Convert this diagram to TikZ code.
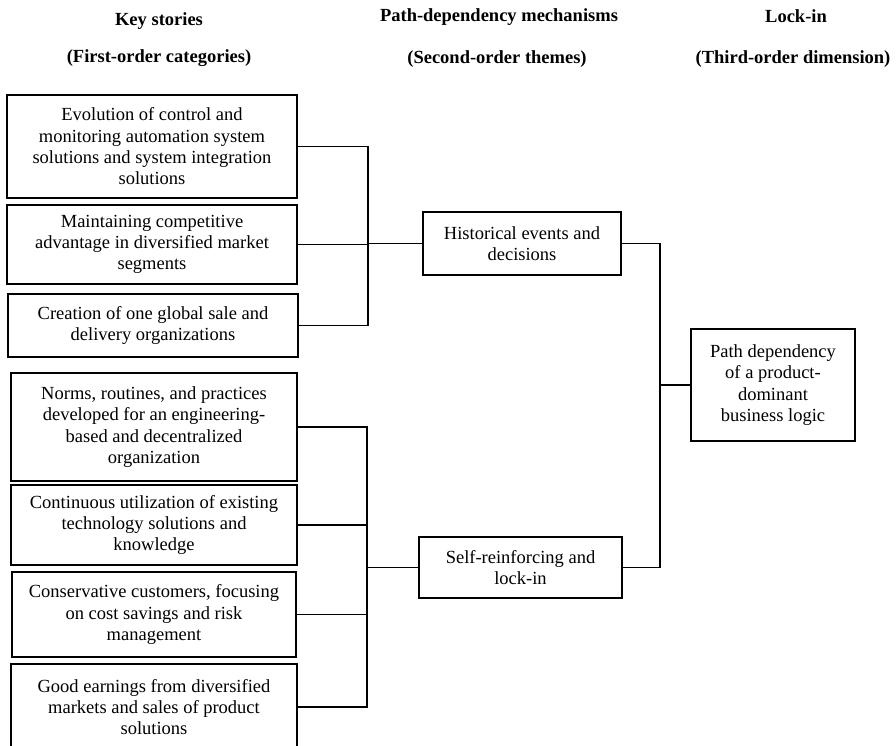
\documentclass[tikz,border=0pt]{standalone}
\usepackage{fontspec}
\setmainfont{Liberation Serif}
\begin{document}
\begin{tikzpicture}[x=1pt,y=-1pt,
  box/.style={draw=black, line width=1.3pt, inner sep=0pt, align=center,
    font=\fontsize{18.5}{21.3}\selectfont},
  head/.style={anchor=base, inner sep=0pt, font=\fontsize{18.5}{21}\selectfont\bfseries},
  conn/.style={draw=black, line width=1.3pt}]
\clip (0,0) rectangle (896,745);
\fill[white] (0,0) rectangle (896,745);

% headers
\node[head] (h1a) at (159,25) {Key stories};
\node[head] (h1b) at (159,62) {(First-order categories)};
\node[head] (h2a) at (499,21) {Path-dependency mechanisms};
\node[head] (h2b) at (497,63) {(Second-order themes)};
\node[head] (h3a) at (796,22) {Lock-in};
\node[head] (h3b) at (793,63) {(Third-order dimension)};

% first-order boxes (upper group)
\node[box, minimum width=290pt, minimum height=103pt] (b1) at (152,146.5)
  {Evolution of control and\\monitoring automation system\\solutions and system integration\\solutions};
\node[box, minimum width=290pt, minimum height=79pt] (b2) at (152,244.5)
  {Maintaining competitive\\advantage in diversified market\\segments};
\node[box, minimum width=290pt, minimum height=63pt] (b3) at (153,325.5)
  {Creation of one global sale and\\delivery organizations};

% first-order boxes (lower group)
\node[box, minimum width=286pt, minimum height=108pt] (b4) at (154,427)
  {Norms, routines, and practices\\developed for an engineering-\\based and decentralized\\organization};
\node[box, minimum width=286pt, minimum height=80pt] (b5) at (154,525)
  {Continuous utilization of existing\\technology solutions and\\knowledge};
\node[box, minimum width=284pt, minimum height=85pt] (b6) at (154,614.5)
  {Conservative customers, focusing\\on cost savings and risk\\management};
\node[box, minimum width=286pt, minimum height=86pt] (b7) at (154,707)
  {Good earnings from diversified\\markets and sales of product\\solutions};

% second-order boxes
\node[box, minimum width=198pt, minimum height=63pt] (hist) at (522,243.5)
  {Historical events and\\decisions};
\node[box, minimum width=203pt, minimum height=61pt] (self) at (520.5,567.5)
  {Self-reinforcing and\\lock-in};

% third-order box
\node[box, minimum width=164pt, minimum height=112pt] (pd) at (773,385)
  {Path dependency\\of a product-\\dominant\\business logic};

% bus coordinates
\coordinate (u) at (368,0);
\coordinate (l) at (367,0);
\coordinate (r) at (660,0);

% upper connectors
\draw[conn] (b1.east) -- (b1.east -| u) -- (b3.east -| u) -- (b3.east);
\draw[conn] (b2.east) -- (b2.east -| u);
\draw[conn] (hist.west -| u) -- (hist.west);

% lower connectors
\draw[conn] (b4.east) -- (b4.east -| l) -- (b7.east -| l) -- (b7.east);
\draw[conn] (b5.east) -- (b5.east -| l);
\draw[conn] (b6.east) -- (b6.east -| l);
\draw[conn] (self.west -| l) -- (self.west);

% right connectors
\draw[conn] (hist.east) -- (hist.east -| r) -- (self.east -| r) -- (self.east);
\draw[conn] (pd.west -| r) -- (pd.west);
\end{tikzpicture}
\end{document}
